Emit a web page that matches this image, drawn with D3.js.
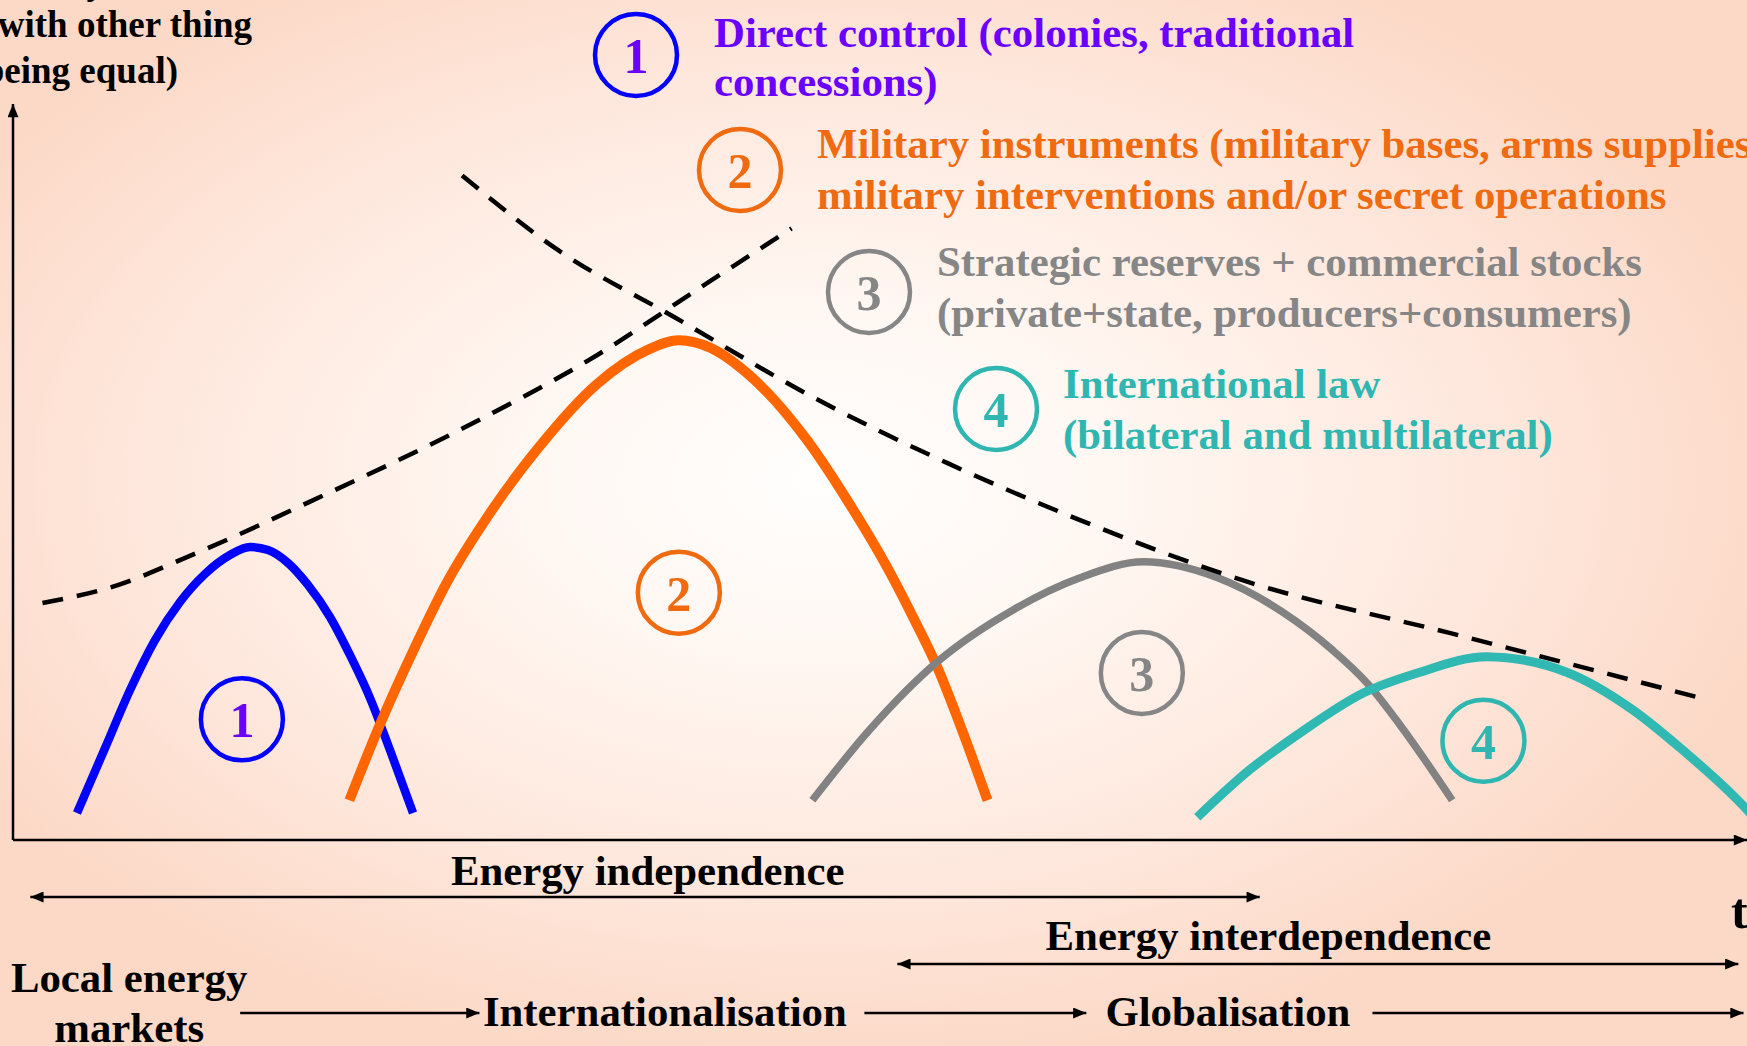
<!DOCTYPE html>
<html>
<head>
<meta charset="utf-8">
<script src="https://cdn.jsdelivr.net/npm/d3@7"></script>
<style>
    html, body { margin: 0; padding: 0; overflow: hidden; background: #fde3d6; }
    svg { display: block; }
    text { font-family: "Liberation Serif", "Times New Roman", serif; font-weight: bold; }
</style>
</head>
<body>
<div id="chart"></div>
<script>
// --- Data (time 0-100 on x, level 0-100 on y) ---
const stageIds = ["1", "2", "3", "4"];

// each instrument rises, peaks and fades over time
const directControl = [[3.69, 3.67], [5.31, 12.50], [6.75, 20.38], [8.19, 27.17], [9.63, 32.34], [11.07, 36.14],
    [12.51, 38.72], [13.67, 39.81], [14.71, 39.40], [15.86, 37.64], [17.01, 34.65], [18.28, 30.30],
    [19.43, 25.14], [20.59, 19.29], [21.74, 12.23], [23.07, 3.67]];
const militaryInstruments = [[19.4, 5.4], [21.2, 15.9], [23.1, 25.8], [25.0, 34.9], [27.5, 44.4], [30.2, 53.0],
    [33.7, 62.0], [36.6, 66.6], [38.4, 67.9], [40.2, 66.9], [42.3, 63.5], [45.8, 54.3], [48.1, 46.2],
    [50.4, 37.1], [51.9, 30.3], [53.3, 23.5], [54.8, 14.5], [56.2, 5.4]];
const strategicReserves = [[46.1, 5.4], [49.3, 14.7], [53.3, 24.2], [57.7, 31.3], [61.5, 35.6], [65.2, 37.8],
    [69.4, 35.7], [73.2, 31.0], [76.1, 25.8], [78.1, 21.3], [80.0, 15.6], [83.0, 5.4]];
const internationalLaw = [[68.3, 3.1], [71.3, 9.5], [74.2, 14.5], [77.9, 20.0], [81.0, 22.7], [85.0, 24.9],
    [89.6, 22.8], [93.4, 17.7], [96.3, 12.2], [100, 4.1], [101, 1.4]];
const stageCurves = [directControl, militaryInstruments, strategicReserves, internationalLaw];

// dashed envelopes
const envelopeRising = [[1.7, 32.2], [6.0, 34.6], [10.0, 38.4], [17.7, 46.6], [26.0, 56.0], [33.7, 65.9],
    [39.6, 75.0], [44.9, 83.1]];
const envelopeFalling = [[25.9, 90.3], [31.4, 80.2], [38.1, 71.1], [46.1, 60.2], [53.9, 51.2], [61.5, 43.5],
    [71.3, 35.0], [82.9, 28.1], [97.8, 19.0]];

// numbered markers under each curve
const stageMarkers = [[13.2, 16.4], [38.4, 33.6], [65.1, 22.7], [84.8, 13.5]];

const legendLines = [
    ["Direct control (colonies, traditional", "concessions)"],
    ["Military instruments (military bases, arms supplies,", "military interventions and/or secret operations"],
    ["Strategic reserves + commercial stocks", "(private+state, producers+consumers)"],
    ["International law", "(bilateral and multilateral)"]
];

const yAxisLines = ["Energy security", "with other thing", "being equal)"];

// periods along the time axis
const periodLabels = ["Energy independence", "Energy interdependence"];
const periodSpans = [[1.0, 71.9], [51.0, 99.5]];

// market evolution row
const marketStages = [["Local energy", "markets"], ["Internationalisation"], ["Globalisation"]];
const marketArrows = [[13.1, 26.9], [49.1, 61.9], [78.4, 99.8]];

// --- Styles / layout ---
const stageColors = ["#0000ff", "#ff6600", "#828282", "#30b8b2"];
const stageTextColors = ["#6a00ff", "#f06a10", "#868686", "#30b6b0"];
const stageWidths = [8.5, 10, 7.5, 9];
const legendPos = [[636, 55, 714], [740, 170, 817], [869, 292, 937], [996, 409, 1063]];
const legendBaselines = [[47, 96], [158, 209], [276, 327], [398, 449]];

const W = 1747, H = 1046;
const FONT = 42.8;

function drawChart() {
    if (typeof d3 === 'undefined') { console.error("D3 library is not loaded."); return; }

    const svg = d3.select("#chart").append("svg")
        .attr("width", W)
        .attr("height", H);

    const defs = svg.append("defs");

    // soft peach background, white in the middle
    const grad = defs.append("radialGradient")
        .attr("id", "bg")
        .attr("cx", 0.47).attr("cy", 0.46).attr("r", 0.56);
    [[0, "#fffefd"], [0.3, "#fff7f2"], [0.7, "#fee7dc"], [1, "#fcd9c7"]].forEach(s => {
        grad.append("stop").attr("offset", s[0]).attr("stop-color", s[1]);
    });

    defs.append("marker")
        .attr("id", "arrow")
        .attr("viewBox", "0 0 12 10")
        .attr("refX", 12).attr("refY", 5)
        .attr("markerUnits", "userSpaceOnUse")
        .attr("markerWidth", 14).attr("markerHeight", 11)
        .attr("orient", "auto-start-reverse")
        .append("path")
        .attr("d", "M0,0 L12,5 L0,10 z")
        .attr("fill", "#000");

    svg.append("rect").attr("width", W).attr("height", H).attr("fill", "url(#bg)");

    const x = d3.scaleLinear().domain([0, 100]).range([13, 1747]);
    const y = d3.scaleLinear().domain([0, 100]).range([840, 104]);

    // --- axes ---
    svg.append("line")
        .attr("x1", x(0)).attr("y1", y(0)).attr("x2", x(0)).attr("y2", y(100))
        .attr("stroke", "#000").attr("stroke-width", 2.5)
        .attr("marker-end", "url(#arrow)");
    svg.append("line")
        .attr("x1", x(0)).attr("y1", y(0)).attr("x2", x(100)).attr("y2", y(0))
        .attr("stroke", "#000").attr("stroke-width", 2.5)
        .attr("marker-end", "url(#arrow)");

    const yLabelX = [105, 252, 178];
    const yLabelY = [-6, 37, 83];
    svg.selectAll("text.ylab")
        .data(yAxisLines)
        .enter().append("text")
        .attr("class", "ylab")
        .attr("x", (d, i) => yLabelX[i])
        .attr("y", (d, i) => yLabelY[i])
        .attr("text-anchor", "end")
        .attr("font-size", 37)
        .attr("fill", "#000")
        .text(d => d);

    svg.append("text")
        .attr("x", 1731).attr("y", 928)
        .attr("font-size", 50)
        .text("t");

    // --- curves ---
    const line = d3.line()
        .x(d => x(d[0]))
        .y(d => y(d[1]))
        .curve(d3.curveMonotoneX);

    svg.selectAll("path.stage")
        .data(stageCurves)
        .enter().append("path")
        .attr("class", "stage")
        .attr("d", line)
        .attr("fill", "none")
        .attr("stroke", (d, i) => stageColors[i])
        .attr("stroke-width", (d, i) => stageWidths[i]);

    svg.selectAll("path.envelope")
        .data([envelopeRising, envelopeFalling])
        .enter().append("path")
        .attr("class", "envelope")
        .attr("d", line)
        .attr("fill", "none")
        .attr("stroke", "#000")
        .attr("stroke-width", 4.5)
        .attr("stroke-dasharray", "21 14");

    // --- numbered circles on the chart ---
    const markers = svg.selectAll("g.marker")
        .data(stageMarkers)
        .enter().append("g")
        .attr("class", "marker")
        .attr("transform", d => `translate(${x(d[0])},${y(d[1])})`);
    markers.append("circle")
        .attr("r", 41)
        .attr("fill", "none")
        .attr("stroke", (d, i) => i === 0 ? stageColors[0] : stageTextColors[i])
        .attr("stroke-width", 4.5);
    markers.append("text")
        .attr("y", 18)
        .attr("text-anchor", "middle")
        .attr("font-size", 50)
        .attr("fill", (d, i) => stageTextColors[i])
        .text((d, i) => stageIds[i]);

    // --- legend ---
    const legend = svg.selectAll("g.legend")
        .data(stageIds)
        .enter().append("g")
        .attr("class", "legend");
    legend.append("circle")
        .attr("cx", (d, i) => legendPos[i][0])
        .attr("cy", (d, i) => legendPos[i][1])
        .attr("r", 41)
        .attr("fill", "none")
        .attr("stroke", (d, i) => i === 0 ? stageColors[0] : stageTextColors[i])
        .attr("stroke-width", 4.5);
    legend.append("text")
        .attr("x", (d, i) => legendPos[i][0])
        .attr("y", (d, i) => legendPos[i][1] + 18)
        .attr("text-anchor", "middle")
        .attr("font-size", 50)
        .attr("fill", (d, i) => stageTextColors[i])
        .text(d => d);
    legend.each(function(d, i) {
        d3.select(this).selectAll("text.ltxt")
            .data(legendLines[i])
            .enter().append("text")
            .attr("class", "ltxt")
            .attr("x", legendPos[i][2])
            .attr("y", (t, j) => legendBaselines[i][j])
            .attr("font-size", FONT)
            .attr("fill", stageTextColors[i])
            .text(t => t);
    });

    // --- periods (double arrows) ---
    const periodY = [897, 964];
    const periodTextY = [885, 950];
    periodSpans.forEach((span, i) => {
        svg.append("line")
            .attr("x1", x(span[0])).attr("x2", x(span[1]))
            .attr("y1", periodY[i]).attr("y2", periodY[i])
            .attr("stroke", "#000").attr("stroke-width", 2.5)
            .attr("marker-start", "url(#arrow)")
            .attr("marker-end", "url(#arrow)");
    });
    const periodCenters = [36.6, 72.4];
    svg.selectAll("text.period")
        .data(periodLabels)
        .enter().append("text")
        .attr("class", "period")
        .attr("x", (d, i) => x(periodCenters[i]))
        .attr("y", (d, i) => periodTextY[i])
        .attr("text-anchor", "middle")
        .attr("font-size", FONT)
        .text(d => d);

    // --- market evolution row ---
    marketArrows.forEach(a => {
        svg.append("line")
            .attr("x1", x(a[0])).attr("x2", x(a[1]))
            .attr("y1", 1013).attr("y2", 1013)
            .attr("stroke", "#000").attr("stroke-width", 2.5)
            .attr("marker-end", "url(#arrow)");
    });
    const stageX = [6.7, 27.1, 63.0];
    const stageAnchor = ["middle", "start", "start"];
    marketStages.forEach((lines, i) => {
        const baseY = lines.length > 1 ? [992, 1042] : [1026];
        lines.forEach((t, j) => {
            svg.append("text")
                .attr("x", x(stageX[i]))
                .attr("y", baseY[j])
                .attr("text-anchor", stageAnchor[i])
                .attr("font-size", FONT)
                .text(t);
        });
    });
}

drawChart();
</script>
</body>
</html>
